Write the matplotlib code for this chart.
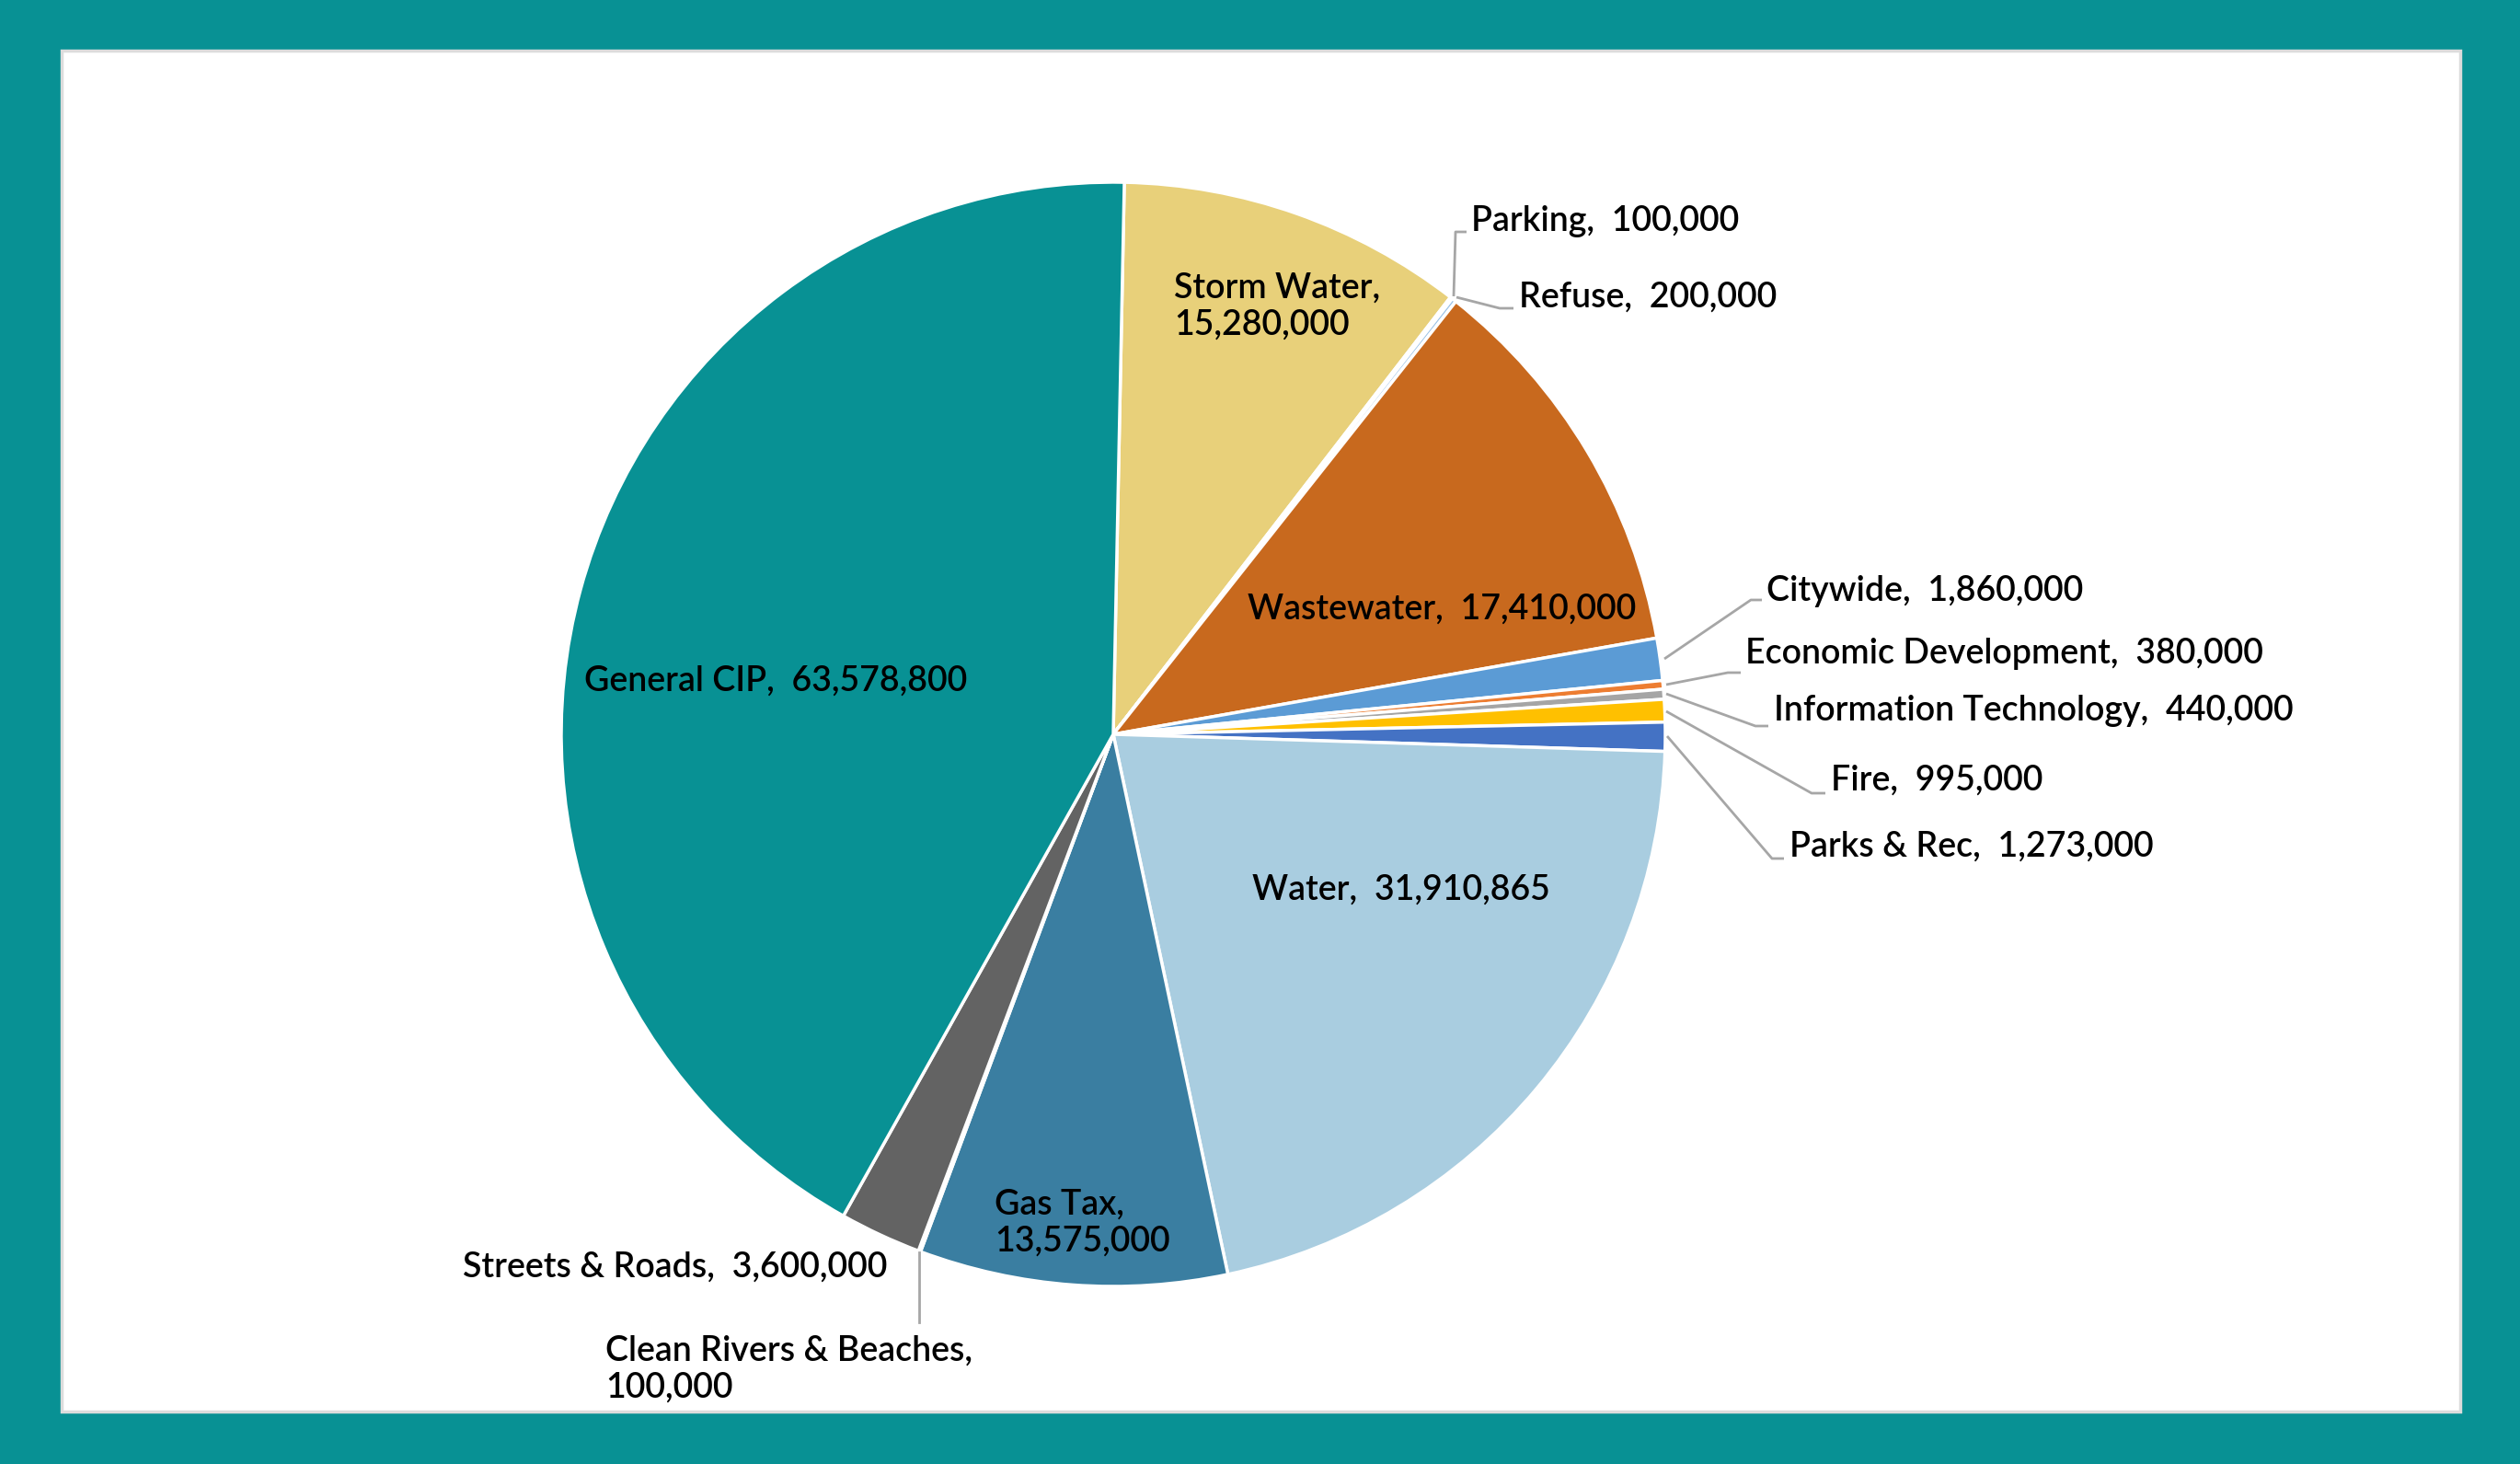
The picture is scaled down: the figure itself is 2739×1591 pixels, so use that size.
import matplotlib
matplotlib.use("Agg")
import matplotlib.pyplot as plt
from matplotlib.patches import Rectangle
import numpy as np

# ---- data ----
categories = ["Storm Water", "Parking", "Refuse", "Wastewater", "Citywide",
              "Economic Development", "Information Technology", "Fire",
              "Parks & Rec", "Water", "Gas Tax", "Clean Rivers & Beaches",
              "Streets & Roads", "General CIP"]
values = [15280000, 100000, 200000, 17410000, 1860000, 380000, 440000, 995000,
          1273000, 31910865, 13575000, 100000, 3600000, 63578800]
colors = ["#e8d07a", "#d9d9d9", "#9dc3e6", "#c8691e", "#5b9bd5", "#ed7d31",
          "#a5a5a5", "#ffc000", "#4472c4", "#a9cde0", "#3a7ea1", "#264478",
          "#636363", "#089194"]

W, H = 2739, 1591
TEAL = "#089194"
plt.rcParams['font.family'] = ['Lato', 'DejaVu Sans']

fig = plt.figure(figsize=(W / 100, H / 100), dpi=100, facecolor=TEAL)
ax = fig.add_axes([0, 0, 1, 1])
ax.set_xlim(0, W)
ax.set_ylim(H, 0)
ax.axis('off')

# inner white panel
ax.add_patch(Rectangle((67, 55), 2607, 1479, facecolor="white",
                       edgecolor="#dcdcdc", linewidth=2.5, zorder=0))

cx, cy, R = 1210, 798, 600
# pie drawn with inverted y axis: counterclock=True appears clockwise on screen
start = -90 + 1.15
wedges, _ = ax.pie(values, colors=colors, startangle=start, counterclock=True,
                   radius=R, center=(cx, cy), frame=True,
                   wedgeprops=dict(edgecolor="white", linewidth=2.5))
ax.set_xlim(0, W)
ax.set_ylim(H, 0)
ax.set_aspect('auto')
ax.axis('off')

def fmt(v):
    return f"{v:,}"

FS = 27
WT = "semibold"
lead_col = "#a6a6a6"

# inside labels (center, align)
inside = {
    "Wastewater": ((1567, 662), "center", False),
    "Water": ((1523, 967), "center", False),
    "General CIP": ((843, 740), "center", False),
    "Storm Water": ((1276, 333), "left", True),
    "Gas Tax": ((1081, 1329), "left", True),
}
for name, ((x, y), ha, wrap) in inside.items():
    v = values[categories.index(name)]
    txt = f"{name},\n{fmt(v)}" if wrap else f"{name},  {fmt(v)}"
    ax.text(x, y, txt, ha=ha, va="center", fontsize=FS, fontweight=WT,
            color="black", linespacing=1.2, zorder=5)

# outside labels with leaders: (text start x, text center y, leader path)
outside = {
    "Parking": ((1599, 240), [(1580, 322), (1582, 252), (1594, 252)]),
    "Refuse": ((1651, 323), [(1583, 323), (1630, 335), (1645, 335)]),
    "Citywide": ((1920, 642), [(1809, 716), (1903, 652), (1915, 652)]),
    "Economic Development": ((1897, 710), [(1811, 744), (1878, 731), (1892, 731)]),
    "Information Technology": ((1928, 772), [(1811, 754), (1908, 789), (1922, 789)]),
    "Fire": ((1990, 848), [(1811, 773), (1969, 862), (1984, 862)]),
    "Parks & Rec": ((1945, 920), [(1812, 800), (1926, 933), (1939, 933)]),
    "Streets & Roads": ((503, 1377), None),
}
for name, ((x, y), path) in outside.items():
    v = values[categories.index(name)]
    ax.text(x, y, f"{name},  {fmt(v)}", ha="left", va="center", fontsize=FS,
            fontweight=WT, color="black", zorder=5)
    if path:
        xs, ys = zip(*path)
        ax.plot(xs, ys, color=lead_col, lw=2, zorder=4, solid_capstyle="butt")

# Clean Rivers label
v = values[categories.index("Clean Rivers & Beaches")]
ax.text(658, 1488, f"Clean Rivers & Beaches,\n{fmt(v)}", ha="left", va="center",
        fontsize=FS, fontweight=WT, color="black", linespacing=1.2, zorder=5)
ax.plot([999, 999], [1361, 1437], color=lead_col, lw=2, zorder=4)

fig.savefig("out.png", dpi=100, facecolor=TEAL)
